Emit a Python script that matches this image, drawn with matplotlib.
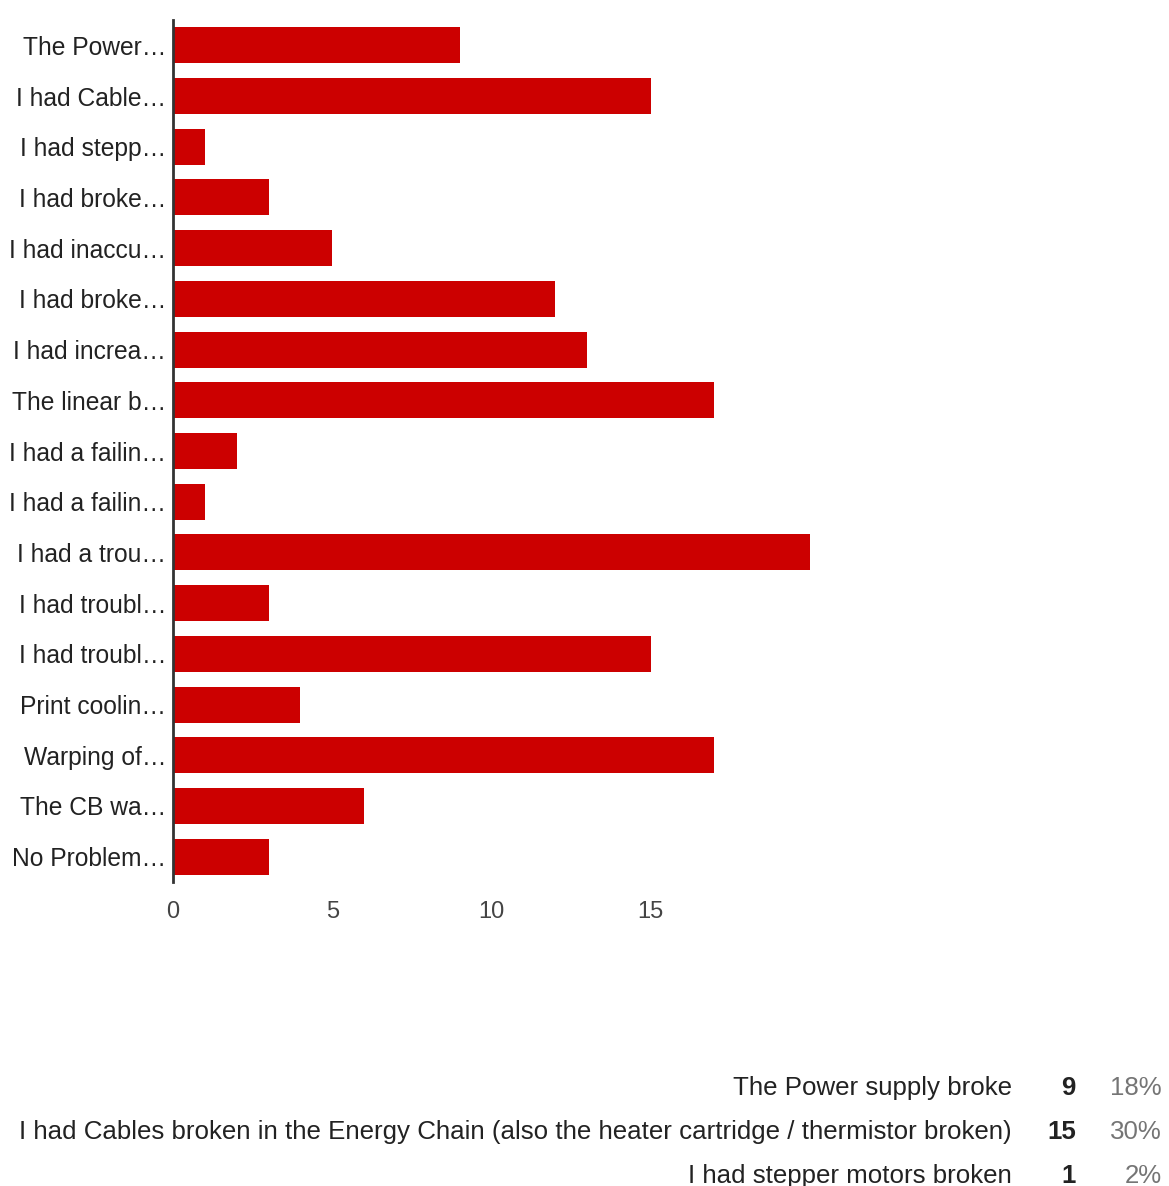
import matplotlib
matplotlib.use("Agg")
import matplotlib.pyplot as plt

plt.rcParams['font.family'] = ['Liberation Sans', 'DejaVu Sans']

categories = ["The Power…", "I had Cable…", "I had stepp…", "I had broke…", "I had inaccu…",
              "I had broke…", "I had increa…", "The linear b…", "I had a failin…", "I had a failin…",
              "I had a trou…", "I had troubl…", "I had troubl…", "Print coolin…", "Warping of…",
              "The CB wa…", "No Problem…"]
values = [9, 15, 1, 3, 5, 12, 13, 17, 2, 1, 20, 3, 15, 4, 17, 6, 3]
xticks = [0, 5, 10, 15]

table_labels = ["The Power supply broke",
                "I had Cables broken in the Energy Chain (also the heater cartridge / thermistor broken)",
                "I had stepper motors broken"]
table_counts = [9, 15, 1]
table_pcts = ["18%", "30%", "2%"]

W, H = 1169, 1186
fig = plt.figure(figsize=(W / 100, H / 100), dpi=100)
ax_left, ax_right = 173, 173 + 20.5 * 31.85
ax_top, ax_bottom = 20, 882
ax = fig.add_axes([ax_left / W, 1 - ax_bottom / H, (ax_right - ax_left) / W, (ax_bottom - ax_top) / H])

y = list(range(len(values)))
ax.barh(y, values, height=0.71, color='#cc0000', zorder=2)
ax.set_ylim(len(values) - 0.5, -0.5)
ax.set_xlim(0, 20.5)
ax.set_yticks(y)
ax.set_yticklabels(categories, fontsize=17.7, color='#222222')
ax.set_xticks(xticks)
ax.set_xticklabels([str(t) for t in xticks], fontsize=17, color='#444444')
ax.tick_params(axis='y', length=0, pad=5)
ax.tick_params(axis='x', length=0, pad=14)
for s in ['top', 'right', 'bottom']:
    ax.spines[s].set_visible(False)
ax.spines['left'].set_color('#333333')
ax.spines['left'].set_linewidth(2)
ax.spines['left'].set_zorder(3)

rows_y = [1088, 1132, 1176]
for lab, cnt, pct, yy in zip(table_labels, table_counts, table_pcts, rows_y):
    fig.text(1012 / W, 1 - yy / H, lab, ha='right', va='center', fontsize=18.6, color='#222222')
    fig.text(1076 / W, 1 - yy / H, str(cnt), ha='right', va='center', fontsize=18.6,
             fontweight='bold', color='#222222')
    fig.text(1162 / W, 1 - yy / H, pct, ha='right', va='center', fontsize=18.6, color='#757575')

fig.savefig('out.png', dpi=100)
